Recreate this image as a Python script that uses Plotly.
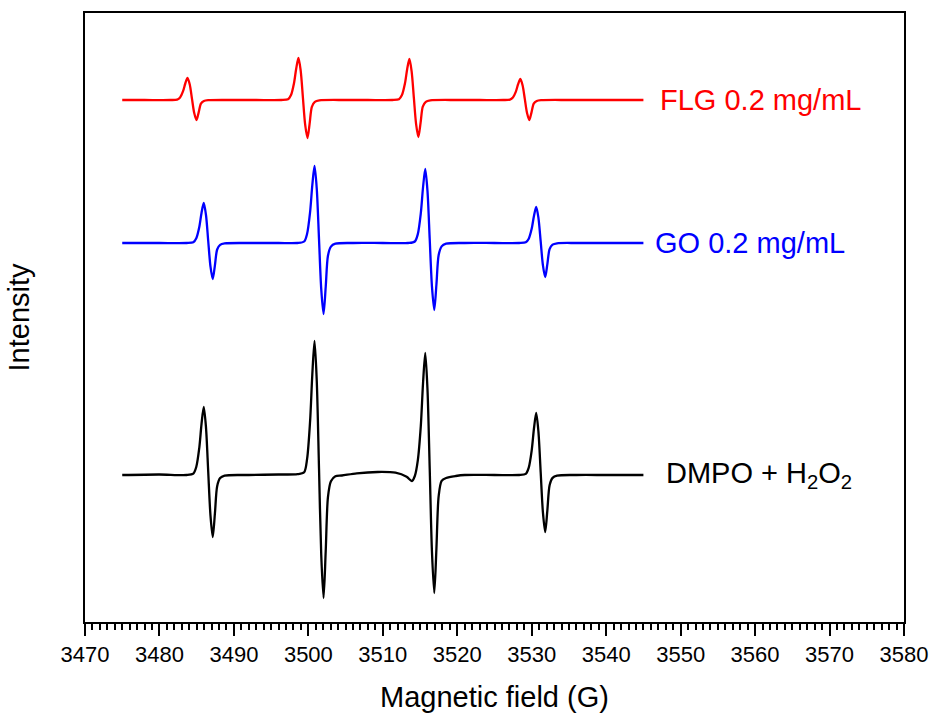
import plotly.graph_objects as go

# Magnetic field (G) and intensity (a.u., baseline = 0)
black_field = [3475.0, 3480.0, 3483.65, 3484.55, 3484.95, 3485.35, 3485.65, 3485.95, 3486.25, 3486.55, 3486.85,
               3487.16, 3487.45, 3487.75, 3488.15, 3488.75, 3492.0, 3496.0,
               3498.53, 3499.43, 3499.83, 3500.23, 3500.53, 3500.83, 3501.13, 3501.43, 3501.73, 3502.04,
               3502.33, 3502.63, 3503.03, 3503.63, 3504.5, 3506.5, 3509.3, 3511.7, 3513.2, 3513.9,
               3514.3, 3514.7, 3515.1, 3515.4, 3515.7, 3516.0, 3516.3, 3516.6, 3516.91, 3517.2, 3517.5,
               3517.9, 3518.5, 3519.8, 3521.0, 3525.0,
               3528.3, 3529.2, 3529.6, 3530.0, 3530.3, 3530.6, 3530.9, 3531.2, 3531.5, 3531.81, 3532.1,
               3532.4, 3532.8, 3533.4, 3536.0, 3540.0, 3545.0]
black_int = [0, 0.5, 0, 1.4, 8.2, 27.2, 51, 68, 47.6, 3.4, -40.3,
             -62, -38.4, -11.2, -3.1, -0.6, 0, 0.5,
             0.8, 2.7, 16.1, 53.6, 100.5, 134, 93.8, 6.7, -80, -123,
             -76.3, -22.1, -6.2, -1.2, -0.5, 1.7, 3.0, 2.3, -1.7, -6.0,
             -1.0, 14.6, 48.8, 91.5, 122, 85.4, 6.1, -76.7, -118, -73.2, -21.2,
             -5.9, -3.0, -1.0, 0, 0,
             0, 1.2, 7.4, 24.8, 46.5, 62, 43.4, 3.1, -37.1, -57, -35.3,
             -10.3, -2.9, -0.6, 0, 0, 0]

blue_field = [3475.0, 3480.0, 3483.65, 3484.55, 3484.95, 3485.35, 3485.65, 3485.95, 3486.25, 3486.55, 3486.85,
              3487.16, 3487.45, 3487.75, 3488.15, 3488.75, 3492.0, 3496.0,
              3498.53, 3499.43, 3499.83, 3500.23, 3500.53, 3500.83, 3501.13, 3501.43, 3501.73, 3502.04,
              3502.33, 3502.63, 3503.03, 3503.63, 3506.0, 3510.0,
              3513.4, 3514.3, 3514.7, 3515.1, 3515.4, 3515.7, 3516.0, 3516.3, 3516.6, 3516.91, 3517.2,
              3517.5, 3517.9, 3518.5, 3521.0, 3525.0,
              3528.3, 3529.2, 3529.6, 3530.0, 3530.3, 3530.6, 3530.9, 3531.2, 3531.5, 3531.81, 3532.1,
              3532.4, 3532.8, 3533.4, 3536.0, 3540.0, 3545.0]
blue_int = [0, 0, 0, 0.8, 4.8, 16, 30, 40, 28, 2, -23.4,
            -36, -22.3, -6.5, -1.8, -0.4, 0, 0,
            0, 1.5, 9.2, 30.8, 57.8, 77, 53.9, 3.9, -46.2, -71,
            -44, -12.8, -3.6, -0.7, 0, 0,
            0, 1.5, 8.9, 29.6, 55.5, 74, 51.8, 3.7, -43.6, -67, -41.5,
            -12.1, -3.4, -0.7, 0, 0,
            0, 0.7, 4.3, 14.4, 27, 36, 25.2, 1.8, -22.1, -34, -21.1,
            -6.1, -1.7, -0.3, 0, 0, 0]

red_field = [3475.0, 3478.0, 3481.47, 3482.37, 3482.77, 3483.17, 3483.47, 3483.77, 3484.07, 3484.37, 3484.67,
             3484.98, 3485.27, 3485.57, 3485.97, 3486.57, 3490.0, 3493.0,
             3496.37, 3497.27, 3497.67, 3498.07, 3498.37, 3498.67, 3498.97, 3499.27, 3499.57, 3499.88,
             3500.17, 3500.47, 3500.87, 3501.47, 3505.0, 3508.0,
             3511.27, 3512.17, 3512.57, 3512.97, 3513.27, 3513.57, 3513.87, 3514.17, 3514.47, 3514.78,
             3515.07, 3515.37, 3515.77, 3516.37, 3520.0, 3523.0,
             3526.17, 3527.07, 3527.47, 3527.87, 3528.17, 3528.47, 3528.77, 3529.07, 3529.37, 3529.68,
             3529.97, 3530.27, 3530.67, 3531.27, 3535.0, 3540.0, 3545.0]
red_int = [0, 0, 0, 0.4, 2.6, 8.8, 16.5, 22, 15.4, 1.1, -13,
           -20, -12.4, -3.6, -1, -0.2, 0, 0,
           0, 0.8, 5, 16.8, 31.5, 42, 29.4, 2.1, -24.7, -38,
           -23.6, -6.8, -1.9, -0.4, 0, 0,
           0, 0.8, 4.9, 16.4, 30.8, 41, 28.7, 2.1, -24.1, -37,
           -22.9, -6.7, -1.9, -0.4, 0, 0,
           0, 0.4, 2.5, 8.4, 15.8, 21, 14.7, 1.1, -13, -20,
           -12.4, -3.6, -1, -0.2, 0, 0, 0]

series_names = ["FLG 0.2 mg/mL", "GO 0.2 mg/mL", "DMPO + H<sub>2</sub>O<sub>2</sub>"]
series_offsets = [522, 379, 147]          # vertical stacking offsets (a.u.)
series_colors = ["#FF0000", "#0000FF", "#000000"]
label_field = [3547.0, 3546.3, 3547.7]

x_ticks = [3470, 3480, 3490, 3500, 3510, 3520, 3530, 3540, 3550, 3560, 3570, 3580]

FONT = "Liberation Sans, Arial, sans-serif"

fig = go.Figure()
data = [(red_field, red_int), (blue_field, blue_int), (black_field, black_int)]
for (fx, fy), name, off, col in zip(data, series_names, series_offsets, series_colors):
    fig.add_trace(go.Scatter(
        x=fx, y=[v + off for v in fy], mode="lines", name=name,
        line=dict(color=col, width=2.3, shape="spline", smoothing=0.8),
        showlegend=False, hoverinfo="skip"))

for name, off, col, lx in zip(series_names, series_offsets, series_colors, label_field):
    fig.add_annotation(x=lx, y=off, xref="x", yref="y", text=name, showarrow=False,
                       xanchor="left", yanchor="middle",
                       font=dict(family=FONT, size=29, color=col))

fig.update_layout(
    width=933, height=713,
    margin=dict(l=85, r=29, t=13, b=91),
    paper_bgcolor="white", plot_bgcolor="white",
    font=dict(family=FONT, color="black"),
    xaxis=dict(
        range=[3470, 3580], tickvals=x_ticks, ticktext=[str(t) for t in x_ticks],
        ticks="outside", ticklen=12, tickwidth=2, tickcolor="black",
        tickfont=dict(family=FONT, size=22, color="black"),
        minor=dict(dtick=1, ticklen=6, tickwidth=1.5, tickcolor="black", ticks="outside"),
        showline=True, linecolor="black", linewidth=2, mirror=True,
        showgrid=False, zeroline=False, automargin=False,
        title=dict(text="Magnetic field (G)", font=dict(family=FONT, size=29, color="black"), standoff=22),
    ),
    yaxis=dict(
        range=[0, 609], showticklabels=False, ticks="",
        showline=True, linecolor="black", linewidth=2, mirror=True,
        showgrid=False, zeroline=False, automargin=False,
        title=dict(text="Intensity", font=dict(family=FONT, size=29, color="black"), standoff=45),
    ),
)

# remove the default page margin so the figure fills the 933x713 window exactly
fig.write_html("out.html",
               config={"displayModeBar": False},
               post_script="document.body.style.margin='0';document.body.style.overflow='hidden';")
